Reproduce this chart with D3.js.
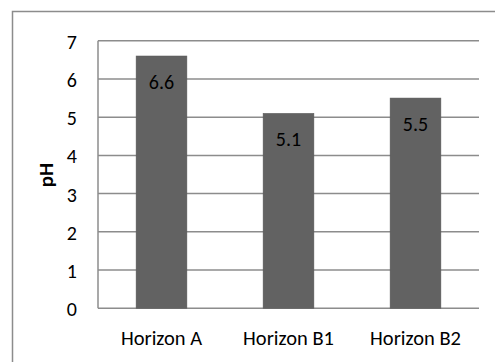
<!DOCTYPE html>
<html>
<head>
<meta charset="utf-8">
<script src="https://cdn.jsdelivr.net/npm/d3@7"></script>
<style>
  html, body { margin: 0; padding: 0; background: #fff; }
  svg { display: block; }
  text { font-family: Carlito, Lato, "Liberation Sans", sans-serif; fill: #000; }
</style>
</head>
<body>
<svg id="chart" width="495" height="362"></svg>
<script>
// Soil pH by horizon
const horizons = ["Horizon A", "Horizon B1", "Horizon B2"];
const phValues = [6.6, 5.1, 5.5];
const yTicks = [0, 1, 2, 3, 4, 5, 6, 7];

const svg = d3.select("#chart");
const W = 495, H = 362;
const plot = { left: 98, right: 479, top: 40.7, bottom: 308.3 };

// Chart frame
svg.append("rect")
  .attr("x", 12.5).attr("y", 11.5)
  .attr("width", W).attr("height", H)
  .attr("fill", "none").attr("stroke", "#8c8c8c").attr("stroke-width", 1.5);

const x = d3.scaleBand()
  .domain(horizons)
  .range([plot.left, plot.right])
  .paddingInner(0.6).paddingOuter(0.3);

const y = d3.scaleLinear()
  .domain([0, 7])
  .range([plot.bottom, plot.top]);

// Horizontal gridlines
svg.append("g")
  .selectAll("line")
  .data(yTicks)
  .join("line")
  .attr("x1", plot.left).attr("x2", plot.right)
  .attr("y1", d => y(d)).attr("y2", d => y(d))
  .attr("stroke", "#8c8c8c").attr("stroke-width", 1.5);

// Vertical axis line
svg.append("line")
  .attr("x1", plot.left).attr("x2", plot.left)
  .attr("y1", plot.top).attr("y2", plot.bottom)
  .attr("stroke", "#8c8c8c").attr("stroke-width", 1.5);

// Y tick labels
const yAxis = d3.axisLeft(y).tickValues(yTicks).tickFormat(d3.format("d")).tickSize(0).tickPadding(21);
const yg = svg.append("g").attr("transform", `translate(${plot.left},0)`).call(yAxis);
yg.select(".domain").remove();
yg.selectAll("text")
  .attr("font-size", 20)
  .attr("font-family", "Carlito, Lato, sans-serif")
  .attr("fill", "#000")
  .attr("dy", "0.38em");

// X tick labels
const xAxis = d3.axisBottom(x).tickSize(0).tickPadding(22);
const xg = svg.append("g").attr("transform", `translate(0,${plot.bottom})`).call(xAxis);
xg.select(".domain").remove();
xg.selectAll("text")
  .attr("font-size", 20.5)
  .attr("font-family", "Carlito, Lato, sans-serif")
  .attr("fill", "#000");

// Bars
svg.append("g")
  .selectAll("rect")
  .data(phValues)
  .join("rect")
  .attr("x", (d, i) => x(horizons[i]))
  .attr("width", x.bandwidth())
  .attr("y", d => y(d))
  .attr("height", d => y(0) - y(d))
  .attr("fill", "#626262")
  .attr("stroke", "#5a5a5a").attr("stroke-width", 0.5);

// Value labels inside bar tops
svg.append("g")
  .selectAll("text")
  .data(phValues)
  .join("text")
  .attr("x", (d, i) => x(horizons[i]) + x.bandwidth() / 2)
  .attr("y", d => y(d) + 33)
  .attr("text-anchor", "middle")
  .attr("font-size", 20)
  .text(d => d.toFixed(1));

// Y axis title
svg.append("text")
  .attr("transform", "translate(53,175) rotate(-90)")
  .attr("text-anchor", "middle")
  .attr("font-size", 21)
  .attr("font-weight", "bold")
  .text("pH");
</script>
</body>
</html>
